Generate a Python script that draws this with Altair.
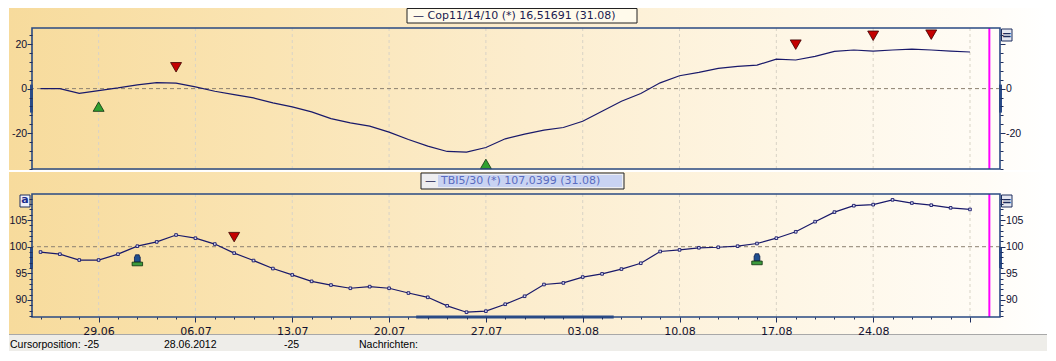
import altair as alt
import pandas as pd

# ---------------- data ----------------
dates = ["26.06", "27.06", "28.06", "29.06",
         "02.07", "03.07", "04.07", "05.07", "06.07",
         "09.07", "10.07", "11.07", "12.07", "13.07",
         "16.07", "17.07", "18.07", "19.07", "20.07",
         "23.07", "24.07", "25.07", "26.07", "27.07",
         "30.07", "31.07", "01.08", "02.08", "03.08",
         "06.08", "07.08", "08.08", "09.08", "10.08",
         "13.08", "14.08", "15.08", "16.08", "17.08",
         "20.08", "21.08", "22.08", "23.08", "24.08",
         "27.08", "28.08", "29.08", "30.08", "31.08"]

cop = [0.0, 0.0, -2.1, -0.9, 0.3, 1.7, 2.7, 2.5, 0.8, -1.2,
       -2.7, -4.2, -6.4, -8.2, -10.5, -13.5, -15.4, -16.9, -19.6, -22.9,
       -25.9, -28.3, -28.6, -26.5, -22.6, -20.5, -18.7, -17.5, -14.7, -10.2,
       -5.7, -2.2, 2.6, 5.8, 7.3, 9.1, 10.0, 10.6, 13.3, 12.9,
       14.5, 16.8, 17.4, 16.9, 17.4, 17.8, 17.4, 16.9, 16.5]

tbi = [99.0, 98.6, 97.5, 97.5, 98.6, 100.1, 100.9, 102.2, 101.6, 100.5,
       98.8, 97.4, 95.9, 94.7, 93.5, 92.8, 92.2, 92.5, 92.2, 91.3,
       90.5, 88.9, 87.7, 87.9, 89.2, 90.7, 92.9, 93.2, 94.3, 94.9,
       95.8, 96.9, 99.1, 99.4, 99.8, 99.9, 100.1, 100.6, 101.6, 102.8,
       104.7, 106.5, 107.7, 107.9, 108.8, 108.2, 107.8, 107.3, 107.0]

fridays = [3, 8, 13, 18, 23, 28, 33, 38, 43, 48]
labelled = [3, 8, 13, 18, 23, 28, 33, 38, 43]
cursor_index = [49]

cop_buy_i = [3, 23]
cop_buy_v = [-8.1, -33.9]
cop_sell_i = [7, 39, 43, 46]
cop_sell_v = [9.6, 19.8, 23.8, 24.3]
tbi_sell_i = [10]
tbi_sell_v = [101.8]
tbi_hold_i = [5, 37]
tbi_hold_v = [97.4, 97.6]

cop_ref = [0]
tbi_ref = [100]
cop_scroll = [1.8, -10.8]
tbi_scroll = [99.9, 96.0]
x_scroll = [19.4, 29.6]

cop_legend = "\u2014 Cop11/14/10 (*) 16,51691 (31.08)"
tbi_dash = "\u2014"
tbi_legend = "TBI5/30 (*) 107,0399 (31.08)"
status_texts = ["Cursorposition:", "-25", "28.06.2012", "-25", "Nachrichten:"]

# ---------------- styles ----------------
FONT = "DejaVu Sans"
AXFONT = "Liberation Sans"
NAVY = "#19196A"
FRAME = "#2A4A82"
TICK = "#1F2F5F"
LAB = "#101030"
GRIDC = "#D9D3C6"
REFC = "#8C8070"
RED, RED_D = "#C40000", "#3A0000"
GREEN, GREEN_D = "#30A030", "#0E300E"
SCROLL = "#2B4C8C"
W, H1, H2 = 968, 141, 123
XDOM = [-0.44, 49.55]
YDOM1 = [-36.2, 27.3]
YDOM2 = [86.8, 109.9]

GRAD = alt.LinearGradient(
    gradient="linear", x1=0, x2=1, y1=0, y2=0,
    stops=[alt.GradientStop(color="#F7DB9C", offset=0),
           alt.GradientStop(color="#FAE4B3", offset=0.25),
           alt.GradientStop(color="#FCEDCE", offset=0.5),
           alt.GradientStop(color="#FEF6E5", offset=0.75),
           alt.GradientStop(color="#FFFCF6", offset=0.94),
           alt.GradientStop(color="#FFFFFF", offset=1)])

xs = alt.Scale(domain=XDOM, nice=False, zero=False)
ys1 = alt.Scale(domain=YDOM1, nice=False, zero=False)
ys2 = alt.Scale(domain=YDOM2, nice=False, zero=False)


def yaxis(orient, values, major, show):
    return alt.Axis(orient=orient, values=values, title=None, grid=False, domain=False,
                    labelExpr=f"({show}) ? '' + datum.value : ''",
                    tickSize={"condition": {"test": major, "value": 5}, "value": 3},
                    tickColor=TICK, tickWidth=1, labelColor=LAB, labelFont=AXFONT,
                    labelFontSize=10.5, labelPadding=0.4, labelOverlap=False,
                    labelBound=False, labelFlush=False, zindex=1)


xlabels = [d if k in labelled else "" for k, d in enumerate(dates)]
xlabel_expr = "[" + ",".join(f"'{s}'" for s in xlabels) + "][datum.value]"
fr_list = "[" + ",".join(str(f) for f in fridays) + "]"
xaxis2 = alt.Axis(values=list(range(len(dates))), title=None, grid=False, domain=False,
                  orient="bottom", labelExpr=xlabel_expr,
                  tickSize={"condition": {"test": f"indexof({fr_list}, datum.value) >= 0", "value": 5},
                            "value": 2},
                  tickColor=TICK, labelColor=LAB, labelFont=FONT, labelFontSize=11,
                  labelPadding=3, labelOverlap=False, labelFlush=False, labelBound=False,
                  zindex=1)

df = pd.DataFrame({"i": list(range(len(dates))), "date": dates, "cop": cop, "tbi": tbi})
one = pd.DataFrame({"k": [0]})
fr = pd.DataFrame({"i": fridays})
cur = pd.DataFrame({"i": cursor_index})

x1 = alt.X("i:Q", scale=xs, axis=None)
x2 = alt.X("i:Q", scale=xs, axis=xaxis2)


def common(xe, ys, H, refv, scroll):
    grid = alt.Chart(fr).mark_rule(color=GRIDC, strokeDash=[3, 3], strokeWidth=1).encode(x=xe)
    ref = alt.Chart(pd.DataFrame({"v": refv})).mark_rule(color=REFC, strokeDash=[4, 3]).encode(
        y=alt.Y("v:Q", scale=ys, axis=None))
    mag = alt.Chart(cur).mark_rule(color="#FF00FF", strokeWidth=2).encode(x=xe)
    sdf = pd.DataFrame({"a": [scroll[0]], "b": [scroll[1]]})
    sl = alt.Chart(sdf).mark_rule(color=SCROLL, strokeWidth=3).encode(
        x=alt.value(-0.5), y=alt.Y("a:Q", scale=ys, axis=None), y2="b:Q")
    sr = alt.Chart(sdf).mark_rule(color=SCROLL, strokeWidth=3).encode(
        x=alt.value(W + 0.5), y=alt.Y("a:Q", scale=ys, axis=None), y2="b:Q")
    frame = alt.Chart(one).mark_rect(fillOpacity=0, stroke=FRAME, strokeWidth=1.6).encode(
        x=alt.value(0), x2=alt.value(W), y=alt.value(0), y2=alt.value(H))
    btn = alt.Chart(one).mark_rect(fill="#E4E6F0", stroke="#1E2E5E", strokeWidth=1).encode(
        x=alt.value(W + 1.5), x2=alt.value(W + 12), y=alt.value(1), y2=alt.value(13))
    btn_t = alt.Chart(one).mark_text(text="=", font=FONT, fontSize=12, fontWeight="bold",
                                     color="#1E2E5E", align="center", baseline="middle").encode(
        x=alt.value(W + 6.8), y=alt.value(7))
    return grid, ref, mag, sl, sr, frame, btn, btn_t


# ---------------- top panel ----------------
bg = alt.Chart(one).mark_rect(fill=GRAD).encode(
    x=alt.value(-23), x2=alt.value(1015), y=alt.value(-20), y2=alt.value(307))
g1, ref1, mag1, sl1, sr1, frame1, btn1, btnt1 = common(x1, ys1, H1, cop_ref, cop_scroll)

ytop_vals = list(range(-36, 25, 4))
line1 = alt.Chart(df).mark_line(color=NAVY, strokeWidth=1.2).encode(
    x=x1, y=alt.Y("cop:Q", scale=ys1,
                  axis=yaxis("left", ytop_vals, "datum.value % 20 === 0", "datum.value % 20 === 0")))
line1r = alt.Chart(df).mark_line(strokeOpacity=0).encode(
    x=x1, y=alt.Y("cop:Q", scale=ys1,
                  axis=yaxis("right", ytop_vals, "datum.value % 20 === 0",
                             "datum.value === 0 || datum.value === -20")))
buy1 = alt.Chart(pd.DataFrame({"i": cop_buy_i, "v": cop_buy_v})).mark_point(
    shape="triangle-up", filled=True, fill=GREEN, stroke=GREEN_D, strokeWidth=0.8,
    size=120, opacity=1).encode(x=x1, y=alt.Y("v:Q", scale=ys1, axis=None))
sell1 = alt.Chart(pd.DataFrame({"i": cop_sell_i, "v": cop_sell_v})).mark_point(
    shape="triangle-down", filled=True, fill=RED, stroke=RED_D, strokeWidth=0.8,
    size=120, opacity=1).encode(x=x1, y=alt.Y("v:Q", scale=ys1, axis=None))
leg1_box = alt.Chart(one).mark_rect(fill="#FFFAEB", stroke="#222222", strokeWidth=1).encode(
    x=alt.value(375), x2=alt.value(605), y=alt.value(-19.5), y2=alt.value(-5))
leg1_t = alt.Chart(one).mark_text(text=cop_legend, font=FONT, fontSize=11, color="#1A1A50",
                                  align="left", baseline="middle").encode(
    x=alt.value(381), y=alt.value(-12))

top = alt.layer(bg, g1, ref1, line1, line1r, buy1, sell1, mag1, sl1, sr1, frame1,
                btn1, btnt1, leg1_box, leg1_t).properties(width=W, height=H1).resolve_axis(y="independent")

# ---------------- bottom panel ----------------
g2, ref2, mag2, sl2, sr2, frame2, btn2, btnt2 = common(x2, ys2, H2, tbi_ref, tbi_scroll)
ybot_vals = list(range(87, 110))
line2 = alt.Chart(df).mark_line(color=NAVY, strokeWidth=1.2).encode(
    x=x2, y=alt.Y("tbi:Q", scale=ys2,
                  axis=yaxis("left", ybot_vals, "datum.value % 5 === 0", "datum.value % 5 === 0")))
line2r = alt.Chart(df).mark_line(strokeOpacity=0).encode(
    x=x2, y=alt.Y("tbi:Q", scale=ys2,
                  axis=yaxis("right", ybot_vals, "datum.value % 5 === 0", "datum.value % 5 === 0")))
pts2 = alt.Chart(df).mark_point(shape="square", size=7, filled=True, fill="#D8DCF4",
                                stroke=NAVY, strokeWidth=0.9, opacity=1).encode(
    x=x2, y=alt.Y("tbi:Q", scale=ys2, axis=None))
sell2 = alt.Chart(pd.DataFrame({"i": tbi_sell_i, "v": tbi_sell_v})).mark_point(
    shape="triangle-down", filled=True, fill=RED, stroke=RED_D, strokeWidth=0.8,
    size=120, opacity=1).encode(x=x2, y=alt.Y("v:Q", scale=ys2, axis=None))
hold_df = pd.DataFrame({"i": tbi_hold_i, "v": tbi_hold_v})
hold_body = alt.Chart(hold_df).mark_point(
    shape="M-0.35,-1.1 L0.35,-1.1 L0.45,-0.7 L0.55,-0.7 L0.55,0.3 L-0.55,0.3 L-0.55,-0.7 L-0.45,-0.7 Z",
    filled=True, fill="#1F4F8F", stroke="#10204A", strokeWidth=0.8, size=110, opacity=1).encode(
    x=x2, y=alt.Y("v:Q", scale=ys2, axis=None))
hold_base = alt.Chart(hold_df).mark_point(
    shape="M-1,0.3 L1,0.3 L1,1 L-1,1 Z",
    filled=True, fill="#3C9A3C", stroke="#0E2E0E", strokeWidth=0.8, size=110, opacity=1).encode(
    x=x2, y=alt.Y("v:Q", scale=ys2, axis=None))
xs_df = pd.DataFrame({"i": [x_scroll[0]], "b": [x_scroll[1]]})
xscroll = alt.Chart(xs_df).mark_rule(color=SCROLL, strokeWidth=3).encode(
    x=x2, x2="b:Q", y=alt.value(H2))

sep = alt.Chart(one).mark_rect(fill="#FFFFFF").encode(
    x=alt.value(-23), x2=alt.value(1015), y=alt.value(-24), y2=alt.value(-22))
leg2_box = alt.Chart(one).mark_rect(fill="#EEEEF0", stroke="#222222", strokeWidth=1).encode(
    x=alt.value(389), x2=alt.value(592), y=alt.value(-21), y2=alt.value(-5))
leg2_hl = alt.Chart(one).mark_rect(fill="#C9D3F2").encode(
    x=alt.value(406), x2=alt.value(590), y=alt.value(-19), y2=alt.value(-7))
leg2_d = alt.Chart(one).mark_text(text=tbi_dash, font=FONT, fontSize=11, color="#1A1A50",
                                  align="left", baseline="middle").encode(
    x=alt.value(393), y=alt.value(-13))
leg2_t = alt.Chart(one).mark_text(text=tbi_legend, font=FONT, fontSize=11, color="#5A6CC0",
                                  align="left", baseline="middle").encode(
    x=alt.value(409), y=alt.value(-13))
abtn = alt.Chart(one).mark_rect(fill="#F0F0FA", stroke="#1E2E5E", strokeWidth=1).encode(
    x=alt.value(-12), x2=alt.value(-2), y=alt.value(1), y2=alt.value(13))
abtn_t = alt.Chart(one).mark_text(text="a", font=FONT, fontSize=11, fontWeight="bold",
                                  color="#1E2E8E", align="center", baseline="middle").encode(
    x=alt.value(-7), y=alt.value(6))

status_bg = alt.Chart(one).mark_rect(fill="#EEEDE9").encode(
    x=alt.value(-23), x2=alt.value(1015), y=alt.value(141), y2=alt.value(157))
status_line = alt.Chart(one).mark_rule(color="#A8A8A8", strokeWidth=1).encode(
    x=alt.value(-23), x2=alt.value(1015), y=alt.value(140.5))
status_px = [-22, 52, 132, 252, 327]
status_layers = [
    alt.Chart(one).mark_text(text=t, font=AXFONT, fontSize=10.5, color="#000000",
                             align="left", baseline="middle").encode(
        x=alt.value(px), y=alt.value(150.5))
    for t, px in zip(status_texts, status_px)]

bottom = alt.layer(sep, g2, ref2, line2, line2r, pts2, sell2, hold_body, hold_base, mag2,
                   sl2, sr2, xscroll, frame2, btn2, btnt2, abtn, abtn_t,
                   leg2_box, leg2_hl, leg2_d, leg2_t, status_bg, status_line, *status_layers
                   ).properties(width=W, height=H2).resolve_axis(y="independent")

chart = alt.vconcat(top, bottom, spacing=25, bounds="flush").properties(
    padding=0, background="#FFFFFF").configure_view(stroke=None)

chart.save("out.html", embed_options={"renderer": "svg", "actions": False})
